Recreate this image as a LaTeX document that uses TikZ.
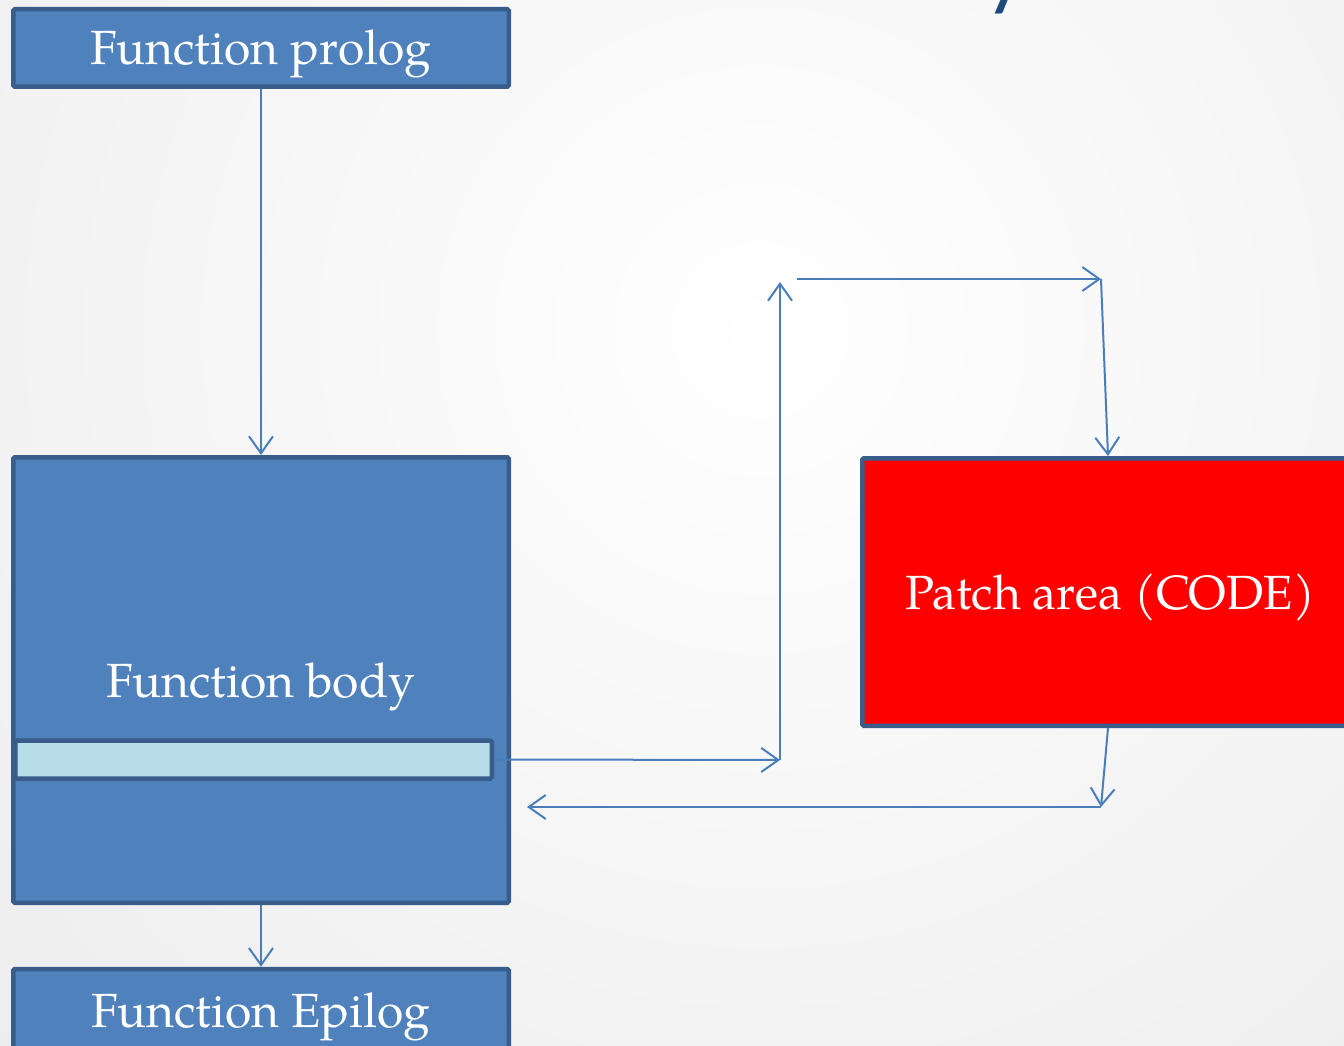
\documentclass[tikz,border=0pt]{standalone}
\usepackage{fontspec}
\setmainfont{TeX Gyre Pagella}
\newfontfamily\titlefont{Carlito}
\usetikzlibrary{arrows.meta}
\definecolor{fillblue}{HTML}{4F81BD}
\definecolor{bordblue}{HTML}{385D8A}
\definecolor{arrblue}{HTML}{4A7EBB}
\definecolor{barfill}{HTML}{B7DEE8}
\definecolor{titleblue}{HTML}{1F497D}
\tikzset{
  box/.style={draw=bordblue, fill=fillblue, line width=4.5pt, inner sep=0pt, rounded corners=1.5pt,
    text=white, font=\fontsize{48}{58}\selectfont, text height=36pt, text depth=2pt, minimum width=495.5pt},
  arr/.style={draw=arrblue, line width=2pt, -{Straight Barb[length=17pt,width=24pt,line width=2pt]}},
}
\begin{document}
\begin{tikzpicture}[x=1pt,y=-1pt]
\useasboundingbox (0,0) rectangle (1344,1046);
\begin{scope}
\clip (0,0) rectangle (1344,1046);
\fill[white] (0,0) rectangle (1344,1046);
\shade[inner color=white, outer color=black!7] (760,330) circle (1050);
\node[text=titleblue, font=\titlefont\fontsize{90}{100}\selectfont, anchor=base, inner sep=0pt] (title) at (1006,0) {y};
\node[box, minimum height=77.5pt] (prolog) at (261,48) {Function prolog};
\node[box, minimum height=445.5pt] (body) at (261,680) {Function body};
\node[box, fill=barfill, minimum width=476.5pt, minimum height=28.5pt] (bar) at (253.5,759.5) {};
\node[box, minimum height=82pt] (epilog) at (261,1010) {Function Epilog};
\node[box, fill=red, minimum height=267.5pt] (patch) at (1110,592) {Patch area (CODE)};
\coordinate (j1) at (780,760);
\coordinate (j2) at (780,282);
\coordinate (j3) at (797,279);
\coordinate (j4) at (1101,279);
\coordinate (j5) at (1101,807);
\coordinate (j6) at (527,807);
\draw[arr] (prolog.south) -- (body.north);
\draw[arr] (body.south) -- (epilog.north);
\draw[arr] (bar.east) -- (j1);
\draw[arr] (j1) -- (j2);
\draw[arr] (j3) -- (j4);
\draw[arr] (j4) -- (patch.north -| 1108,0);
\draw[arr] (patch.south -| 1108,0) -- (j5);
\draw[arr] (j5) -- (j6);
\end{scope}
\end{tikzpicture}
\end{document}
